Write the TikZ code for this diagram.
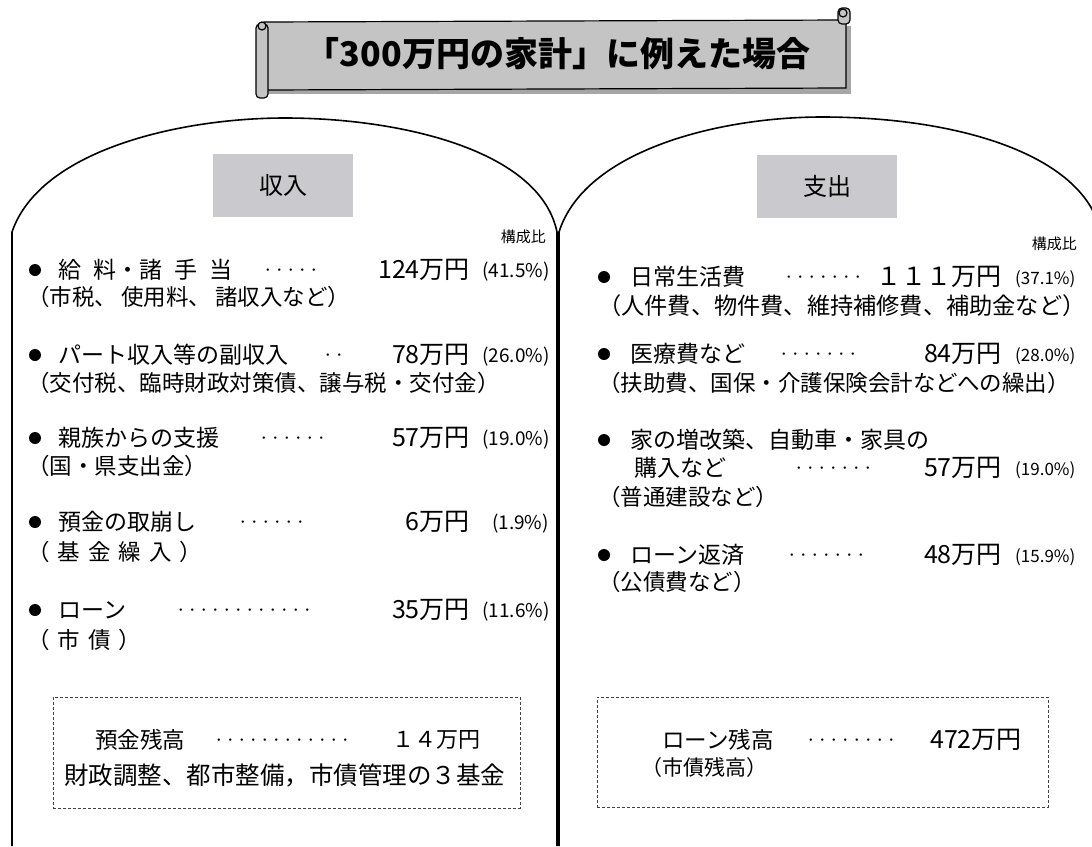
\documentclass[tikz,border=0pt]{standalone}
\usepackage{fontspec}
\setmainfont{Noto Sans CJK JP}
\newcommand\myfs[1]{\fontsize{#1}{#1}\selectfont}
\definecolor{bannergray}{HTML}{C4C4C4}
\definecolor{hdrgray}{HTML}{CACACE}
\begin{document}
\begin{tikzpicture}[x=1pt,y=-1pt,
  txt/.style={anchor=west, inner sep=0pt, font=\myfs{23}},
  sub/.style={anchor=west, inner sep=0pt, font=\myfs{22.5}},
  num/.style={anchor=east, inner sep=0pt, font=\myfs{25}},
  pct/.style={anchor=west, inner sep=0pt, font=\myfs{19}},
  pctr/.style={anchor=west, inner sep=0pt, font=\myfs{17}},
  dts/.style={anchor=west, inner sep=0pt, font=\myfs{11.5}},
  bul/.style={circle, fill=black, inner sep=0pt, minimum size=12pt},
  panel/.style={draw=black, line width=1.6pt},
  hdr/.style={fill=hdrgray, minimum width=140pt, minimum height=63pt, inner sep=0pt, font=\myfs{24}},
  dbox/.style={draw=black!75, densely dashed, line width=0.9pt, inner sep=0pt},
  small/.style={anchor=east, inner sep=0pt, font=\myfs{15}}]
\useasboundingbox (0,0) rectangle (1092,846);
\fill[white] (0,0) rectangle (1092,846);

% ---- banner ----
\fill[gray!70] (268,26) rectangle (851,94);
\draw[fill=bannergray, line width=1.2pt] (264,22) -- (846,20) -- (846,88) -- (264,90) -- cycle;
\draw[fill=bannergray, line width=1.2pt, rounded corners=4pt] (256,24) rectangle (268,98);
\draw[fill=bannergray, line width=1.2pt] (262,26) circle (4);
\draw[fill=bannergray, line width=1.2pt, rounded corners=4pt] (838,8) rectangle (850,24);
\draw[fill=bannergray, line width=1.2pt] (843,13) circle (4);
\node[inner sep=0pt, font=\myfs{34}\bfseries] (title) at (558,54) {「300万円の家計」に例えた場合};

% ---- panels ----
\draw[panel] (12,846) -- (12,232) .. controls (40,150) and (180,118) .. (285,118)
  .. controls (400,118) and (540,150) .. (557,232) -- (557,846);
\draw[panel] (559,846) -- (559,232) .. controls (585,150) and (720,117) .. (822,117)
  .. controls (950,117) and (1065,150) .. (1095,215);

\node[hdr] (inc) at (283,185) {収入};
\node[hdr] (exp) at (827,186) {支出};
\node[small] (ratioL) at (546,237) {構成比};
\node[small] (ratioR) at (1077,244) {構成比};

% ---- income items ----
\node[bul] (b1) at (35,270) {};
\node[txt] (t1) at (58,270) {給\hspace{12pt}料・諸\hspace{12pt}手\hspace{12pt}当};
\node[dts] (d1) at (262,272) {・・・・・};
\node[num] (n1) at (470,270) {124万円};
\node[pct] (p1) at (482,272) {(41.5\%)};
\node[sub] (s1) at (27,297) {（市税、\hspace{4pt}使用料、\hspace{4pt}諸収入など）};

\node[bul] (b2) at (35,355) {};
\node[txt] (t2) at (58,355) {パート収入等の副収入};
\node[dts] (d2) at (322,357) {・・};
\node[num] (n2) at (470,355) {78万円};
\node[pct] (p2) at (482,357) {(26.0\%)};
\node[sub] (s2) at (27,383) {（交付税、臨時財政対策債、譲与税・交付金）};

\node[bul] (b3) at (35,438) {};
\node[txt] (t3) at (58,438) {親族からの支援};
\node[dts] (d3) at (258,440) {・・・・・・};
\node[num] (n3) at (470,438) {57万円};
\node[pct] (p3) at (482,440) {(19.0\%)};
\node[sub] (s3) at (27,466) {（国・県支出金）};

\node[bul] (b4) at (35,522) {};
\node[txt] (t4) at (58,522) {預金の取崩し};
\node[dts] (d4) at (237,524) {・・・・・・};
\node[num] (n4) at (470,522) {6万円};
\node[pct] (p4) at (492,524) {(1.9\%)};
\node[sub] (s4) at (27,552) {（\hspace{8pt}基\hspace{8pt}金\hspace{8pt}繰\hspace{8pt}入\hspace{8pt}）};

\node[bul] (b5) at (35,610) {};
\node[txt] (t5) at (58,610) {ローン};
\node[dts] (d5) at (175,612) {・・・・・・・・・・・・};
\node[num] (n5) at (470,610) {35万円};
\node[pct] (p5) at (482,612) {(11.6\%)};
\node[sub] (s5) at (27,640) {（\hspace{8pt}市\hspace{8pt}債\hspace{8pt}）};

\node[dbox, minimum width=467pt, minimum height=111pt] (boxL) at (286.5,752.5) {};
\node[sub] (bl1) at (95,740) {預金残高};
\node[dts] (bld) at (213,742) {・・・・・・・・・・・・};
\node[num, font=\myfs{22}] (bln) at (481,740) {１４万円};
\node[sub, font=\myfs{24.5}] (bl2) at (64,775) {財政調整、都市整備，市債管理の３基金};

% ---- expenditure items ----
\node[bul] (r1) at (604,277) {};
\node[txt] (u1) at (630,277) {日常生活費};
\node[dts] (e1) at (783,279) {・・・・・・・};
\node[num] (m1) at (1002,277) {１１１万円};
\node[pctr] (q1) at (1015,279) {(37.1\%)};
\node[sub, font=\myfs{23.2}] (v1) at (598,306) {（人件費、物件費、維持補修費、補助金など）};

\node[bul] (r2) at (604,354) {};
\node[txt] (u2) at (630,354) {医療費など};
\node[dts] (e2) at (778,356) {・・・・・・・};
\node[num] (m2) at (1002,354) {84万円};
\node[pctr] (q2) at (1015,356) {(28.0\%)};
\node[sub] (v2) at (598,383) {（扶助費、国保・介護保険会計などへの繰出）};

\node[bul] (r3) at (604,440) {};
\node[txt] (u3) at (630,440) {家の増改築、自動車・家具の};
\node[txt] (u3b) at (634,468) {購入など};
\node[dts] (e3) at (793,470) {・・・・・・・};
\node[num] (m3) at (1002,468) {57万円};
\node[pctr] (q3) at (1015,470) {(19.0\%)};
\node[sub] (v3) at (598,497) {（普通建設など）};

\node[bul] (r4) at (604,555) {};
\node[txt] (u4) at (630,555) {ローン返済};
\node[dts] (e4) at (786,557) {・・・・・・・};
\node[num] (m4) at (1002,555) {48万円};
\node[pctr] (q4) at (1015,557) {(15.9\%)};
\node[sub] (v4) at (598,582) {（公債費など）};

\node[dbox, minimum width=451pt, minimum height=110pt] (boxR) at (822.5,752) {};
\node[sub] (br1) at (662,740) {ローン残高};
\node[dts] (brd) at (805,742) {・・・・・・・・};
\node[num] (brn) at (1022,740) {472万円};
\node[sub, font=\myfs{21}] (br2) at (641,768) {（市債残高）};
\end{tikzpicture}
\end{document}
